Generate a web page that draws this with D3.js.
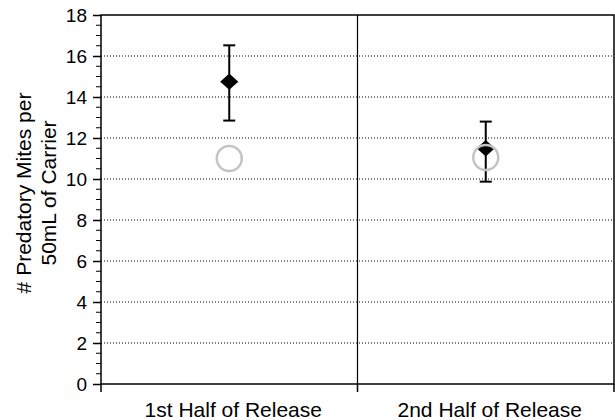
<!DOCTYPE html>
<html>
<head>
<meta charset="utf-8">
<script src="https://cdn.jsdelivr.net/npm/d3@7"></script>
<style>
  html, body { margin: 0; padding: 0; background: #fff; }
  text, tspan { font-family: "Liberation Sans", Arial, Helvetica, sans-serif; fill: #000; }
</style>
</head>
<body>
<svg id="chart" width="615" height="420"></svg>
<script>
// Predatory mite counts per 50 mL of carrier, by release half
const categories = ["1st Half of Release", "2nd Half of Release"];
const meanValues = [14.75, 11.5];     // filled diamonds
const errLow     = [12.85, 9.87];
const errHigh    = [16.52, 12.8];
const refValues  = [11.0, 11.05];     // open grey circles
const yTicks     = [0, 2, 4, 6, 8, 10, 12, 14, 16, 18];
const yLabelLines = ["# Predatory Mites per", "50mL of Carrier"];

const svg = d3.select("#chart");
const margin = { left: 101, right: 1, top: 15, bottom: 36 };
const W = 615, H = 420;
const plotW = W - margin.left - margin.right;
const plotH = H - margin.top - margin.bottom;

const x = d3.scaleBand().domain(categories).range([0, plotW]).padding(0);
const y = d3.scaleLinear().domain([0, 18]).range([plotH, 0]);

const g = svg.append("g").attr("transform", `translate(${margin.left},${margin.top})`);

// dotted horizontal gridlines
g.append("g").selectAll("line")
  .data(yTicks.filter(t => t > 0 && t < 18))
  .join("line")
  .attr("x1", 0).attr("x2", plotW)
  .attr("y1", d => y(d)).attr("y2", d => y(d))
  .attr("stroke", "#000").attr("stroke-width", 1)
  .attr("stroke-dasharray", "1,2");

// divider between the two categories
g.append("line")
  .attr("x1", x(categories[1])).attr("x2", x(categories[1]))
  .attr("y1", 0).attr("y2", plotH)
  .attr("stroke", "#000").attr("stroke-width", 1.2);

// frame
g.append("rect")
  .attr("x", 0).attr("y", 0).attr("width", plotW).attr("height", plotH)
  .attr("fill", "none").attr("stroke", "#000").attr("stroke-width", 1.5);

// y axis with minor ticks
const minorTicks = d3.range(0, 18.01, 0.5).filter(v => !yTicks.includes(v));
g.append("g").selectAll("line")
  .data(minorTicks)
  .join("line")
  .attr("x1", -5).attr("x2", 0)
  .attr("y1", d => y(d)).attr("y2", d => y(d))
  .attr("stroke", "#000").attr("stroke-width", 1);

const yAxis = d3.axisLeft(y).tickValues(yTicks).tickSize(8).tickPadding(6).tickFormat(d3.format("d"));
const ya = g.append("g").call(yAxis);
ya.select(".domain").remove();
ya.selectAll(".tick line").attr("stroke", "#000").attr("stroke-width", 1.5);
ya.selectAll(".tick text").style("font-size", "19px").attr("fill", "#000");

// x axis: ticks at category boundaries, labels centred
const bounds = [0, x(categories[1]), plotW];
g.append("g").selectAll("line")
  .data(bounds)
  .join("line")
  .attr("x1", d => d).attr("x2", d => d)
  .attr("y1", plotH).attr("y2", plotH + 8)
  .attr("stroke", "#000").attr("stroke-width", 1.5);

g.append("g").selectAll("text")
  .data(categories)
  .join("text")
  .attr("x", d => x(d) + x.bandwidth() / 2 + 4)
  .attr("y", plotH + 33)
  .attr("text-anchor", "middle")
  .style("font-size", "21px")
  .text(d => d);

// y axis title (two lines)
const yt = svg.append("text")
  .attr("transform", `translate(31, 193) rotate(-90)`)
  .attr("text-anchor", "middle")
  .style("font-size", "21px");
yt.selectAll("tspan")
  .data(yLabelLines)
  .join("tspan")
  .attr("x", 0)
  .attr("dy", (d, i) => i === 0 ? 0 : 25)
  .text(d => d);

// error bars
const cx = d => x(d) + x.bandwidth() / 2;
const eb = g.append("g");
categories.forEach((c, i) => {
  const xc = cx(c);
  eb.append("line").attr("x1", xc).attr("x2", xc)
    .attr("y1", y(errLow[i])).attr("y2", y(errHigh[i]))
    .attr("stroke", "#000").attr("stroke-width", 2);
  [errLow[i], errHigh[i]].forEach(v => {
    eb.append("line").attr("x1", xc - 6).attr("x2", xc + 6)
      .attr("y1", y(v)).attr("y2", y(v))
      .attr("stroke", "#000").attr("stroke-width", 2);
  });
});

// mean diamonds
const diamond = d3.symbol().type(d3.symbolDiamond2).size(210);
g.append("g").selectAll("path")
  .data(categories)
  .join("path")
  .attr("d", diamond)
  .attr("transform", (d, i) => `translate(${cx(d)},${y(meanValues[i])}) scale(1,0.9)`)
  .attr("fill", "#000");

// reference circles
g.append("g").selectAll("circle")
  .data(categories)
  .join("circle")
  .attr("cx", d => cx(d))
  .attr("cy", (d, i) => y(refValues[i]))
  .attr("r", 12.5)
  .attr("fill", "none")
  .attr("stroke", "#c4c4c4")
  .attr("stroke-width", 2.5);
</script>
</body>
</html>
